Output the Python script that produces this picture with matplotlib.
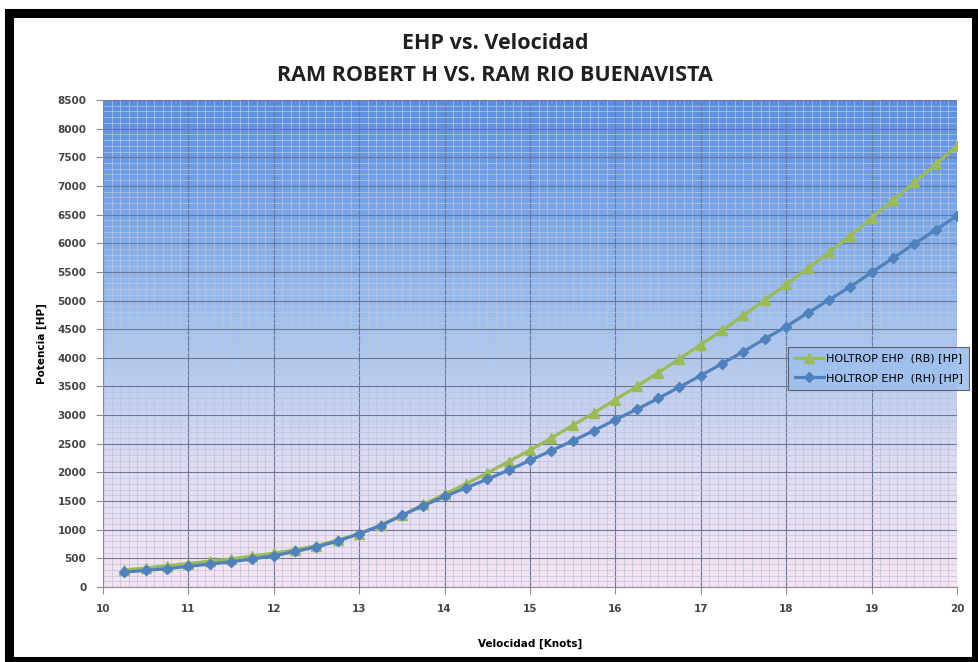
import numpy as np
import matplotlib.pyplot as plt
from matplotlib.patches import Rectangle
from matplotlib.colors import LinearSegmentedColormap
from matplotlib.ticker import MultipleLocator

# Speed (knots) and effective horsepower for both hulls
velocidad = [10.25, 10.5, 10.75, 11.0, 11.25, 11.5, 11.75, 12.0, 12.25, 12.5,
             12.75, 13.0, 13.25, 13.5, 13.75, 14.0, 14.25, 14.5, 14.75, 15.0,
             15.25, 15.5, 15.75, 16.0, 16.25, 16.5, 16.75, 17.0, 17.25, 17.5,
             17.75, 18.0, 18.25, 18.5, 18.75, 19.0, 19.25, 19.5, 19.75, 20.0]

ehp_rb = [300, 330, 370, 410, 450, 490, 540, 590, 650, 720,
          820, 930, 1080, 1250, 1440, 1620, 1800, 1990, 2190, 2390,
          2600, 2820, 3040, 3270, 3500, 3740, 3980, 4230, 4480, 4740,
          5010, 5280, 5560, 5840, 6130, 6440, 6750, 7060, 7380, 7700]

ehp_rh = [260, 290, 320, 360, 400, 440, 490, 545, 620, 700,
          800, 930, 1070, 1250, 1420, 1580, 1730, 1880, 2040, 2210,
          2380, 2550, 2730, 2920, 3100, 3290, 3490, 3690, 3900, 4110,
          4330, 4545, 4780, 5010, 5240, 5490, 5740, 5990, 6230, 6480]

label_rb = "HOLTROP EHP  (RB) [HP]"
label_rh = "HOLTROP EHP  (RH) [HP]"

fig = plt.figure(figsize=(9.79, 6.62), dpi=100)
fig.patch.set_facecolor("white")

# Black frame around the chart
fig.patches.append(Rectangle((0.0095, 0.0015), 0.9875, 0.9785, transform=fig.transFigure,
                             fill=False, edgecolor="black", linewidth=6.5, zorder=10))

ax = fig.add_axes([0.1052, 0.1133, 0.8723, 0.7357])

# Gradient plot background: blue at top fading to pale pink at bottom
cmap = LinearSegmentedColormap.from_list(
    "bg", [(0.0, "#f6e4f2"), (0.25, "#dfdcf2"), (0.5, "#a9c6ee"), (0.75, "#7aa8ea"), (1.0, "#5a8fe2")])
grad = np.linspace(0, 1, 256).reshape(-1, 1)
ax.imshow(grad, aspect="auto", cmap=cmap, origin="lower",
          extent=[0, 1, 0, 1], transform=ax.transAxes, zorder=0)

ax.set_xlim(10, 20)
ax.set_ylim(0, 8500)
ax.xaxis.set_major_locator(MultipleLocator(1))
ax.xaxis.set_minor_locator(MultipleLocator(0.1))
ax.yaxis.set_major_locator(MultipleLocator(500))
ax.yaxis.set_minor_locator(MultipleLocator(100))

ax.grid(which="minor", color="#bcc4da", alpha=0.85, linewidth=0.6, zorder=1)
ax.grid(which="major", color="#6c7898", linewidth=0.8, zorder=1)
ax.set_axisbelow(True)

ax.plot(velocidad, ehp_rb, color="#9bbb59", linewidth=2.3, marker="^",
        markersize=7, label=label_rb, zorder=3)
ax.plot(velocidad, ehp_rh, color="#4f81bd", linewidth=2.3, marker="D",
        markersize=5.5, label=label_rh, zorder=4)

for side in ("top", "right"):
    ax.spines[side].set_visible(False)
for side in ("left", "bottom"):
    ax.spines[side].set_color("#8c8c8c")
    ax.spines[side].set_linewidth(0.8)

ax.tick_params(which="major", direction="out", length=5, color="#8c8c8c",
               labelsize=7.5, labelcolor="#454545", pad=7)
ax.tick_params(which="minor", length=0)
for lbl in ax.get_xticklabels() + ax.get_yticklabels():
    lbl.set_fontweight("bold")

ax.set_xlabel("Velocidad [Knots]", fontsize=7.5, fontweight="bold", labelpad=18)
ax.set_ylabel("Potencia [HP]", fontsize=7.5, fontweight="bold", labelpad=7)

fig.text(0.506, 0.934, "EHP vs. Velocidad", ha="center", va="center",
         fontsize=15.5, fontweight="bold", family="Open Sans", color="#202020")
fig.text(0.506, 0.886, "RAM ROBERT H VS. RAM RIO BUENAVISTA", ha="center", va="center",
         fontsize=15.5, fontweight="bold", family="Open Sans", color="#202020")

leg = ax.legend(loc="upper left", bbox_to_anchor=(0.805, 0.476),
                bbox_transform=fig.transFigure, fontsize=8, frameon=True,
                handlelength=2.6, handletextpad=0.2, borderpad=0.6,
                labelspacing=0.85, fancybox=False, borderaxespad=0)
leg.get_frame().set_facecolor("#9ec0ee")
leg.get_frame().set_alpha(0.9)
leg.get_frame().set_edgecolor("#555555")
leg.get_frame().set_linewidth(0.8)

fig.savefig("out.png", dpi=100)
